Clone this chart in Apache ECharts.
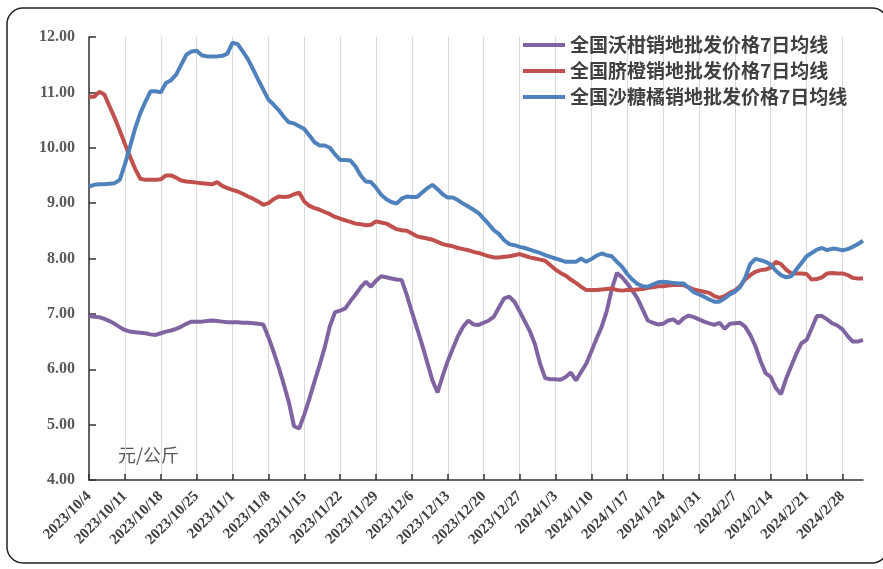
<!DOCTYPE html>
<html>
<head>
<meta charset="utf-8">
<script src="https://cdn.jsdelivr.net/npm/echarts@6/dist/echarts.min.js"></script>
<style>
html, body { margin: 0; padding: 0; background: #fff; }
#main { width: 883px; height: 569px; }
</style>
</head>
<body>
<div id="main"></div>
<script>
// 日期：2023/10/4 起逐日
var startDate = [2023, 9, 4];
var dayCount = 152;
var dates = [];
for (var i = 0; i < dayCount; i++) {
    var dt = new Date(startDate[0], startDate[1], startDate[2] + i);
    dates.push(dt.getFullYear() + '/' + (dt.getMonth() + 1) + '/' + dt.getDate());
}

var seriesNames = ['全国沃柑销地批发价格7日均线', '全国脐橙销地批发价格7日均线', '全国沙糖橘销地批发价格7日均线'];

// 沃柑
var woganData = [
    6.96, 6.95, 6.94, 6.91, 6.87, 6.82, 6.76, 6.71, 6.68, 6.67,
    6.66, 6.65, 6.63, 6.62, 6.65, 6.68, 6.70, 6.73, 6.77, 6.82,
    6.86, 6.86, 6.86, 6.87, 6.88, 6.87, 6.86, 6.85, 6.85, 6.85,
    6.84, 6.84, 6.83, 6.82, 6.81, 6.58, 6.32, 6.04, 5.73, 5.40,
    4.97, 4.93, 5.18, 5.47, 5.78, 6.08, 6.40, 6.78, 7.03, 7.06,
    7.10, 7.23, 7.35, 7.48, 7.58, 7.49, 7.60, 7.68, 7.66, 7.64,
    7.62, 7.61, 7.34, 7.03, 6.74, 6.44, 6.12, 5.80, 5.58, 5.88,
    6.15, 6.38, 6.60, 6.77, 6.88, 6.81, 6.80, 6.84, 6.88, 6.95,
    7.12, 7.28, 7.31, 7.22, 7.05, 6.87, 6.69, 6.45, 6.10, 5.84,
    5.82, 5.82, 5.81, 5.86, 5.94, 5.80, 5.95, 6.10, 6.32, 6.55,
    6.76, 7.05, 7.45, 7.74, 7.66, 7.55, 7.42, 7.28, 7.08, 6.88,
    6.84, 6.81, 6.82, 6.88, 6.90, 6.83, 6.92, 6.97, 6.94, 6.90,
    6.86, 6.83, 6.80, 6.84, 6.73, 6.82, 6.83, 6.84, 6.77, 6.62,
    6.42, 6.15, 5.93, 5.86, 5.66, 5.55, 5.83, 6.06, 6.28, 6.47,
    6.53, 6.74, 6.96, 6.96, 6.90, 6.83, 6.79, 6.72, 6.60, 6.50,
    6.50, 6.53
];

// 脐橙
var qichengData = [
    10.92, 10.92, 11.01, 10.96, 10.75, 10.54, 10.31, 10.07, 9.84, 9.62,
    9.44, 9.42, 9.42, 9.42, 9.43, 9.50, 9.50, 9.46, 9.41, 9.39,
    9.38, 9.37, 9.36, 9.35, 9.34, 9.38, 9.31, 9.27, 9.24, 9.21,
    9.17, 9.12, 9.08, 9.03, 8.97, 9.00, 9.07, 9.12, 9.11, 9.12,
    9.16, 9.19, 9.03, 8.95, 8.91, 8.88, 8.84, 8.80, 8.75, 8.72,
    8.69, 8.66, 8.63, 8.62, 8.60, 8.61, 8.67, 8.65, 8.63, 8.58,
    8.53, 8.51, 8.50, 8.45, 8.40, 8.38, 8.36, 8.34, 8.30, 8.26,
    8.24, 8.22, 8.19, 8.17, 8.15, 8.12, 8.10, 8.07, 8.04, 8.02,
    8.02, 8.03, 8.04, 8.06, 8.08, 8.05, 8.02, 8.00, 7.98, 7.96,
    7.88, 7.80, 7.74, 7.69, 7.62, 7.56, 7.49, 7.43, 7.43, 7.43,
    7.44, 7.45, 7.46, 7.43, 7.42, 7.43, 7.43, 7.44, 7.45, 7.47,
    7.48, 7.50, 7.50, 7.51, 7.52, 7.52, 7.52, 7.48, 7.44, 7.42,
    7.40, 7.38, 7.32, 7.29, 7.32, 7.38, 7.42, 7.50, 7.62, 7.70,
    7.76, 7.79, 7.80, 7.84, 7.94, 7.90, 7.80, 7.73, 7.73, 7.73,
    7.72, 7.62, 7.63, 7.66, 7.73, 7.74, 7.73, 7.73, 7.70, 7.65,
    7.64, 7.64
];

// 沙糖橘
var shatangjuData = [
    9.30, 9.33, 9.34, 9.34, 9.35, 9.36, 9.42, 9.70, 10.02, 10.35,
    10.62, 10.83, 11.02, 11.02, 11.00, 11.17, 11.22, 11.32, 11.50, 11.68,
    11.74, 11.75, 11.67, 11.65, 11.65, 11.65, 11.66, 11.70, 11.90, 11.87,
    11.74, 11.60, 11.42, 11.23, 11.05, 10.87, 10.78, 10.68, 10.56, 10.46,
    10.44, 10.39, 10.34, 10.22, 10.10, 10.04, 10.04, 10.00, 9.88, 9.78,
    9.78, 9.77, 9.66, 9.50, 9.39, 9.38, 9.28, 9.15, 9.07, 9.02,
    8.99, 9.08, 9.12, 9.11, 9.11, 9.19, 9.27, 9.33, 9.25, 9.16,
    9.10, 9.10, 9.05, 8.99, 8.94, 8.88, 8.82, 8.72, 8.62, 8.51,
    8.44, 8.33, 8.26, 8.24, 8.21, 8.19, 8.16, 8.13, 8.10, 8.06,
    8.03, 8.00, 7.97, 7.94, 7.94, 7.94, 8.00, 7.94, 7.99, 8.05,
    8.09, 8.06, 8.04, 7.94, 7.85, 7.72, 7.62, 7.54, 7.50, 7.49,
    7.53, 7.57, 7.58, 7.57, 7.56, 7.55, 7.55, 7.47, 7.39, 7.35,
    7.31, 7.26, 7.22, 7.22, 7.28, 7.35, 7.40, 7.48, 7.65, 7.90,
    7.99, 7.97, 7.94, 7.89, 7.78, 7.70, 7.66, 7.68, 7.80, 7.92,
    8.04, 8.10, 8.16, 8.19, 8.15, 8.18, 8.17, 8.15, 8.17, 8.21,
    8.26, 8.32
];

var yMin = 4, yMax = 12, yStep = 1;
var unitText = '元/公斤';

var chart = echarts.init(document.getElementById('main'));
var option = {
    backgroundColor: '#fff',
    animation: false,
    color: ['#8064A2', '#C0504D', '#4F81BD'],
    grid: {
        left: 89,
        right: 20,
        top: 37,
        bottom: 89
    },
    legend: {
        data: seriesNames,
        orient: 'vertical',
        left: 518,
        top: 30,
        itemGap: 6,
        itemWidth: 42,
        itemHeight: 4,
        icon: 'rect',
        textStyle: {
            fontFamily: 'Noto Sans CJK SC',
            fontSize: 19,
            fontWeight: 'bold',
            color: '#404040',
            lineHeight: 20
        }
    },
    graphic: [
        {
            type: 'rect',
            silent: true,
            shape: { x: 7, y: 8, width: 881, height: 555, r: 16 },
            style: { fill: 'none', stroke: '#222', lineWidth: 1.5 }
        },
        {
            type: 'text',
            silent: true,
            style: {
                x: 118,
                y: 455,
                text: unitText,
                fontFamily: 'Noto Sans CJK SC',
                fontSize: 18,
                fill: '#595959',
                verticalAlign: 'middle'
            }
        }
    ],
    xAxis: {
        type: 'category',
        boundaryGap: false,
        data: dates,
        axisLine: { show: true, lineStyle: { color: '#333', width: 1.5 } },
        axisTick: { show: true, inside: true, length: 6, interval: 6, lineStyle: { color: '#333', width: 1.5 } },
        axisLabel: {
            interval: 6,
            rotate: 45,
            margin: 14,
            fontFamily: 'Liberation Serif',
            fontWeight: 'bold',
            fontSize: 15,
            color: '#404040'
        },
        splitLine: { show: true, interval: 6, lineStyle: { color: '#d9d9d9', width: 1 } }
    },
    yAxis: {
        type: 'value',
        min: yMin,
        max: yMax,
        interval: yStep,
        axisLine: { show: true, lineStyle: { color: '#333', width: 1.5 } },
        axisTick: { show: true, inside: true, length: 7, lineStyle: { color: '#333', width: 1.5 } },
        axisLabel: {
            margin: 14,
            formatter: function (v) { return v.toFixed(2); },
            fontFamily: 'Liberation Serif',
            fontWeight: 'bold',
            fontSize: 16,
            color: '#595959'
        },
        splitLine: { show: false }
    },
    series: [
        {
            name: seriesNames[0],
            type: 'line',
            data: woganData,
            symbol: 'none',
            lineStyle: { width: 4 }
        },
        {
            name: seriesNames[1],
            type: 'line',
            data: qichengData,
            symbol: 'none',
            lineStyle: { width: 4 }
        },
        {
            name: seriesNames[2],
            type: 'line',
            data: shatangjuData,
            symbol: 'none',
            lineStyle: { width: 4 }
        }
    ]
};
chart.setOption(option);
</script>
</body>
</html>
